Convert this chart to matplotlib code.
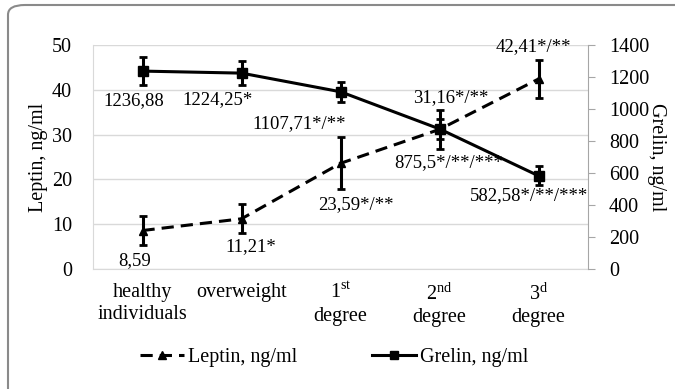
import matplotlib
matplotlib.use("Agg")
import matplotlib.pyplot as plt
from matplotlib.patches import FancyBboxPatch
from matplotlib.lines import Line2D

plt.rcParams['font.family'] = ['Liberation Serif', 'DejaVu Serif']
plt.rcParams['mathtext.fontset'] = 'custom'
plt.rcParams['mathtext.rm'] = 'Liberation Serif'

categories = ["healthy\nindividuals", "overweight", "1$^{\\rm st}$\ndegree",
              "2$^{\\rm nd}$\ndegree", "3$^{\\rm d}$\ndegree"]
leptin = [8.59, 11.21, 23.59, 31.16, 42.41]
leptin_err = [3.3, 3.2, 5.8, 4.4, 4.3]
leptin_labels = ["8,59", "11,21*", "23,59*/**", "31,16*/**", "42,41*/**"]
grelin = [1236.88, 1224.25, 1107.71, 875.5, 582.58]
grelin_err = [85, 75, 63, 60, 60]
grelin_labels = ["1236,88", "1224,25*", "1107,71*/**", "875,5*/**/***", "582,58*/**/***"]

fig = plt.figure(figsize=(6.75, 3.89), dpi=100)
border = FancyBboxPatch((8/675, -0.5), 700/675, 0.5 + 1 - 5/389,
                        boxstyle="round,pad=0,rounding_size=0.025",
                        transform=fig.transFigure, fill=False,
                        edgecolor='#8a8a8a', linewidth=1.5, clip_on=False)
fig.patches.append(border)

ax = fig.add_axes([93/675, 1 - 269/389, (588 - 93)/675, (269 - 45)/389])
ax2 = ax.twinx()

x = list(range(len(categories)))
ax.set_xlim(-0.5, 4.5)
ax.set_ylim(0, 50)
ax.set_yticks(range(0, 51, 10))
ax2.set_ylim(0, 1400)
ax2.set_yticks(range(0, 1401, 200))
ax.yaxis.grid(True, color='#d9d9d9', linewidth=1)
ax.set_axisbelow(True)
for s in ['top', 'right']:
    ax.spines[s].set_visible(False)
ax.spines['left'].set_color('#d9d9d9')
ax.spines['bottom'].set_color('#d9d9d9')
for s in ['top', 'left', 'bottom']:
    ax2.spines[s].set_visible(False)
ax2.spines['right'].set_color('#a6a6a6')
ax.tick_params(axis='y', length=0, labelsize=14.5, pad=15)
ax.tick_params(axis='x', length=0, labelsize=14.5, pad=10)
ax2.tick_params(axis='y', length=5, color='#a6a6a6', labelsize=14.5, pad=10)
ax.set_xticks(x)
ax.set_xticklabels(categories, linespacing=1.25)

ax.errorbar(x, leptin, yerr=leptin_err, color='black', linestyle=(0, (4, 2.3)),
            linewidth=2.2, marker='^', markersize=6, capsize=3, elinewidth=2.2,
            capthick=2, zorder=3)
ax2.errorbar(x, grelin, yerr=grelin_err, color='black', linestyle='-',
             linewidth=2.2, marker='s', markersize=7, capsize=3, elinewidth=2.2,
             capthick=2, zorder=3)

# label offsets in points
lep_off = [(-6, -22), (7, -20), (11, -30), (8, 23), (-4, 23)]
for xi, yi, t, o in zip(x, leptin, leptin_labels, lep_off):
    ax.annotate(t, (xi, yi), xytext=o, textcoords='offset points',
                ha='center', va='center', fontsize=13.5)
gre_off = [(-6, -21), (-17, -19), (-30, -23), (6.5, -24), (-7, -14)]
for xi, yi, t, o in zip(x, grelin, grelin_labels, gre_off):
    ax2.annotate(t, (xi, yi), xytext=o, textcoords='offset points',
                 ha='center', va='center', fontsize=13.5)

ax.set_ylabel("Leptin, ng/ml", fontsize=14.5, labelpad=3)
ax2.set_ylabel("Grelin, ng/ml", fontsize=14.5, rotation=270, labelpad=12)

handles = [
    Line2D([], [], color='black', linestyle=(0, (4, 2.3)), linewidth=2.2,
           marker='^', markersize=6),
    Line2D([], [], color='black', linestyle='-', linewidth=2.2,
           marker='s', markersize=6),
]
fig.legend(handles, ["Leptin, ng/ml", "Grelin, ng/ml"], loc='center',
           bbox_to_anchor=(334/675, 1 - 357/389), ncol=2, frameon=False,
           fontsize=14.5, handlelength=2.2, columnspacing=3.7, handletextpad=0.2)

fig.savefig("out.png", dpi=100)
